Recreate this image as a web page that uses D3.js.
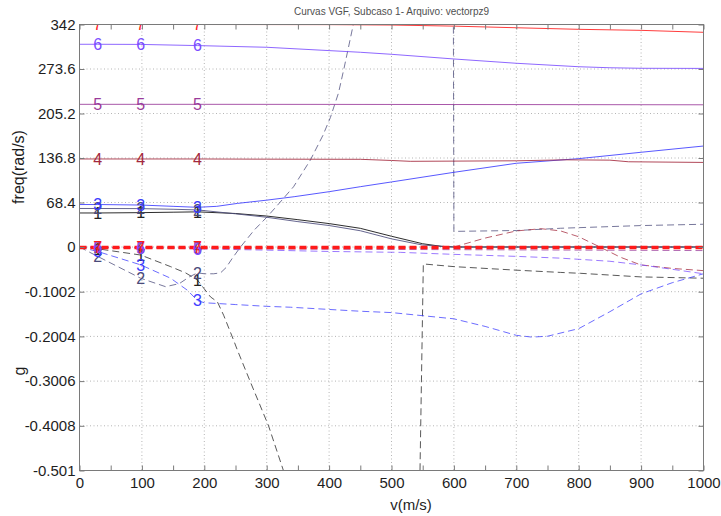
<!DOCTYPE html>
<html>
<head>
<meta charset="utf-8">
<script src="https://cdn.jsdelivr.net/npm/d3@7/dist/d3.min.js"></script>
<style>
  html, body { margin: 0; padding: 0; background: #ffffff; }
  svg { display: block; }
  text { font-family: "Liberation Sans", Arial, Helvetica, sans-serif; }
</style>
</head>
<body>
<svg id="chart" width="721" height="516"></svg>
<script>
// ---- V-g-f data: speed v (m/s) against frequency (rad/s) and damping g ----
const speedTicks = [0, 100, 200, 300, 400, 500, 600, 700, 800, 900, 1000];
const freqTicks = [0, 68.4, 136.8, 205.2, 273.6, 342];
const dampTicks = [-0.1002, -0.2004, -0.3006, -0.4008, -0.501];
const labelSpeeds = [29, 98, 189];
const modeNames = ["1", "2", "3", "4", "5", "6", "7"];
const modeColors = ["#222222", "#4a4a7a", "#3b3bff", "#a3283c", "#9a3a9a", "#7a4cff", "#ff1a1a"];

// frequency per mode, [v, freq]
const freq1 = [[0,52.3],[29,52.3],[98,52.8],[150,53.5],[189,54],[250,51.5],[300,47.6],[350,42],[400,36],[450,28.7],[500,16.5],[550,5],[580,1],[600,0],[700,0],[800,0],[900,0],[1000,0]];
const freq2 = [[0,59.2],[29,59.2],[98,59],[150,58],[189,57],[250,51],[300,45.7],[350,39],[400,33],[450,25],[500,12.5],[550,3],[590,0.5],[600,0],[800,0],[1000,0]];
const freq3 = [[0,65.3],[29,65.3],[98,64.5],[150,62.5],[189,61],[220,62.5],[253,67],[300,72],[344,77.3],[400,85],[450,92.7],[500,100],[600,114.8],[700,128.7],[800,135.8],[900,145.6],[1000,155.2]];
const freq4 = [[0,135.3],[29,135.3],[98,135.3],[189,135.3],[300,135],[450,134.8],[500,133],[530,131.7],[600,132],[700,132.5],[780,134],[850,133.5],[880,131],[1000,130]];
const freq5 = [[0,219.3],[29,219.3],[98,219.3],[189,219.3],[400,219.2],[600,219],[800,218.8],[1000,218.6]];
const freq6 = [[0,311.6],[29,311.6],[98,311.4],[189,309.6],[300,307],[450,299.3],[500,296.2],[600,289],[700,282.4],[800,277.1],[850,275.5],[900,274.7],[1000,274.5]];
const freq7 = [[0,342],[29,342],[98,342],[189,342],[400,341.8],[500,341.2],[600,339.5],[700,337],[800,334.6],[900,333],[1000,330]];

// damping per mode, [v, g]
const damp1 = [[0,0],[29,-0.004],[98,-0.018],[146,-0.044],[170,-0.058],[189,-0.074],[210,-0.112],[221,-0.123],[231,-0.153],[247,-0.209],[253,-0.231],[274,-0.303],[303,-0.401],[327,-0.502],[340,-0.56],[545,-0.56],[551,-0.038],[600,-0.044],[701,-0.052],[771,-0.057],[803,-0.059],[899,-0.067],[1000,-0.07]];
const damp2 = [[0,0],[29,-0.021],[98,-0.07],[138,-0.089],[160,-0.082],[176,-0.067],[189,-0.058],[200,-0.06],[215,-0.06],[226,-0.058],[235,-0.046],[245,-0.025],[258,0],[280,0.038],[301,0.068],[320,0.098],[343,0.135],[370,0.195],[390,0.25],[402,0.29],[415,0.345],[424,0.401],[439,0.5],[450,0.6],[599,0.6],[600,0.035],[701,0.037],[771,0.042],[899,0.048],[1000,0.051]];
const damp3 = [[0,0],[29,-0.01],[98,-0.04],[146,-0.07],[173,-0.097],[189,-0.12],[200,-0.125],[250,-0.129],[300,-0.133],[338,-0.135],[450,-0.144],[500,-0.147],[600,-0.161],[650,-0.178],[700,-0.198],[725,-0.202],[750,-0.2],[800,-0.183],[850,-0.145],[900,-0.105],[950,-0.08],[1000,-0.06]];
const damp4 = [[0,0],[29,-0.001],[98,-0.001],[189,-0.001],[400,-0.002],[590,-0.002],[600,0],[650,0.02],[700,0.036],[740,0.041],[771,0.036],[800,0.023],[834,0],[867,-0.023],[899,-0.04],[950,-0.048],[1000,-0.053]];
const damp5 = [[0,0],[29,-0.001],[98,-0.002],[189,-0.003],[400,-0.005],[600,-0.006],[800,-0.007],[1000,-0.008]];
const damp6 = [[0,0],[29,-0.001],[98,-0.002],[189,-0.004],[300,-0.007],[400,-0.01],[514,-0.012],[600,-0.0165],[700,-0.021],[771,-0.025],[850,-0.032],[899,-0.04],[950,-0.05],[1000,-0.06]];
const damp7 = [[0,-0.001],[29,-0.001],[98,-0.001],[189,-0.001],[500,-0.001],[1000,-0.001]];

const freqSeries = [freq1, freq2, freq3, freq4, freq5, freq6, freq7];
const dampSeries = [damp1, damp2, damp3, damp4, damp5, damp6, damp7];

// ---- layout ----
const box = { left: 79.5, right: 703.5, top: 24.5, zero: 247, bottom: 470.5 };
const svg = d3.select("#chart");

const x = d3.scaleLinear().domain([0, 1000]).range([box.left, box.right]);
const yF = d3.scaleLinear().domain([0, 342]).range([box.zero, box.top]);
const yG = d3.scaleLinear().domain([-0.501, 0]).range([box.bottom, box.zero]);

// dotted grid
const grid = svg.append("g").attr("stroke", "#b5b5b5").attr("stroke-width", 1)
  .attr("stroke-dasharray", "1,2.5").attr("fill", "none");
speedTicks.filter(v => v > 0 && v < 1000).forEach(v => {
  grid.append("line").attr("x1", x(v)).attr("x2", x(v)).attr("y1", box.top).attr("y2", box.bottom);
});
freqTicks.filter(f => f < 342).forEach(f => {
  grid.append("line").attr("x1", box.left).attr("x2", box.right).attr("y1", yF(f)).attr("y2", yF(f));
});
dampTicks.filter(g => g > -0.501).forEach(g => {
  grid.append("line").attr("x1", box.left).attr("x2", box.right).attr("y1", yG(g)).attr("y2", yG(g));
});

// clipping to the plot box
svg.append("defs").append("clipPath").attr("id", "plotClip")
  .append("rect").attr("x", box.left).attr("y", box.top - 0.5)
  .attr("width", box.right - box.left).attr("height", box.bottom - box.top + 0.5);

const plot = svg.append("g").attr("clip-path", "url(#plotClip)");

const freqLine = d3.line().x(d => x(d[0])).y(d => yF(d[1]));
const dampLine = d3.line().x(d => x(d[0])).y(d => yG(d[1]));

for (let m = 0; m < 7; m++) {
  plot.append("path").datum(freqSeries[m]).attr("d", freqLine)
    .attr("fill", "none").attr("stroke", modeColors[m]).attr("stroke-width", 1)
    .attr("stroke-opacity", m === 0 ? 0.95 : 0.85);
  const heavy = m === 6;
  plot.append("path").datum(dampSeries[m]).attr("d", dampLine)
    .attr("fill", "none").attr("stroke", modeColors[m])
    .attr("stroke-width", heavy ? 3.5 : 1)
    .attr("stroke-opacity", heavy ? 1 : 0.75)
    .attr("stroke-dasharray", heavy ? "7,4" : "7,4");
}

// mode number labels at the sampled speeds
const labels = plot.append("g").attr("font-size", 16).attr("text-anchor", "middle");
for (let m = 0; m < 7; m++) {
  freqSeries[m].filter(d => labelSpeeds.includes(d[0])).forEach(d => {
    labels.append("text").attr("x", x(d[0])).attr("y", yF(d[1])).attr("dy", "0.36em")
      .attr("fill", modeColors[m]).text(modeNames[m]);
  });
}
for (let m = 0; m < 7; m++) {
  dampSeries[m].filter(d => labelSpeeds.includes(d[0])).forEach(d => {
    labels.append("text").attr("x", x(d[0])).attr("y", yG(d[1])).attr("dy", "0.36em")
      .attr("fill", modeColors[m]).text(modeNames[m]);
  });
}

// axes
const fmt = d => String(d);
const axisStyle = sel => {
  sel.select(".domain").remove();
  sel.selectAll(".tick line").attr("stroke", "#7a7a7a");
  sel.selectAll(".tick text").attr("fill", "#1e1e1e").attr("font-size", 15)
    .attr("font-family", "'Liberation Sans', Arial, sans-serif");
};

svg.append("g").attr("transform", `translate(${box.left},0)`)
  .call(d3.axisLeft(yF).tickValues(freqTicks).tickFormat(fmt).tickSize(-5).tickPadding(4))
  .call(axisStyle);
svg.append("g").attr("transform", `translate(${box.left},0)`)
  .call(d3.axisLeft(yG).tickValues(dampTicks).tickFormat(fmt).tickSize(-5).tickPadding(4))
  .call(axisStyle);
svg.append("g").attr("transform", `translate(${box.right},0)`)
  .call(d3.axisRight(yF).tickValues(freqTicks).tickFormat("").tickSize(-5))
  .call(axisStyle);
svg.append("g").attr("transform", `translate(${box.right},0)`)
  .call(d3.axisRight(yG).tickValues(dampTicks).tickFormat("").tickSize(-5))
  .call(axisStyle);

const minorSpeeds = d3.range(50, 1000, 100);
svg.append("g").attr("transform", `translate(0,${box.bottom})`)
  .call(d3.axisBottom(x).tickValues(speedTicks).tickFormat(fmt).tickSize(-5).tickPadding(7))
  .call(axisStyle);
svg.append("g").attr("transform", `translate(0,${box.bottom})`)
  .call(d3.axisBottom(x).tickValues(minorSpeeds).tickFormat("").tickSize(-5))
  .call(axisStyle);
svg.append("g").attr("transform", `translate(0,${box.top})`)
  .call(d3.axisTop(x).tickValues(speedTicks.concat(minorSpeeds)).tickFormat("").tickSize(-5))
  .call(axisStyle);

// frame
svg.append("rect").attr("x", box.left).attr("y", box.top)
  .attr("width", box.right - box.left).attr("height", box.bottom - box.top)
  .attr("fill", "none").attr("stroke", "#7a7a7a").attr("stroke-width", 1);

// titles
svg.append("text").attr("x", (box.left + box.right) / 2).attr("y", 15)
  .attr("text-anchor", "middle").attr("font-size", 10).attr("fill", "#505050")
  .text("Curvas VGF, Subcaso 1- Arquivo: vectorpz9");
svg.append("text").attr("x", 411).attr("y", 510)
  .attr("text-anchor", "middle").attr("font-size", 15).attr("fill", "#1e1e1e")
  .text("v(m/s)");
svg.append("text").attr("transform", "translate(24,167) rotate(-90)")
  .attr("text-anchor", "middle").attr("font-size", 16).attr("fill", "#1e1e1e")
  .text("freq(rad/s)");
svg.append("text").attr("transform", "translate(25,371) rotate(-90)")
  .attr("text-anchor", "middle").attr("font-size", 16).attr("fill", "#1e1e1e")
  .text("g");
</script>
</body>
</html>
